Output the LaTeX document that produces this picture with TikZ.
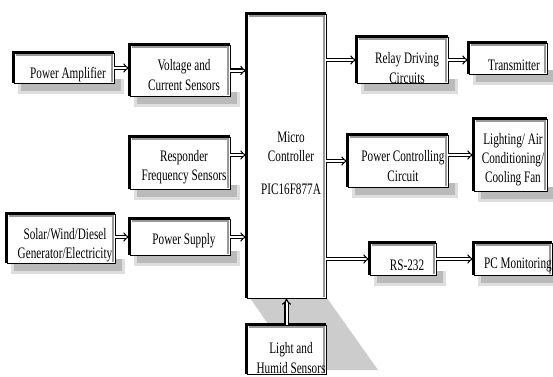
\documentclass[tikz,border=0pt]{standalone}
\usepackage{fontspec}
\setmainfont{Liberation Serif}[FakeStretch=0.7]
\usetikzlibrary{fit,arrows.meta,calc}
\begin{document}
\begin{tikzpicture}[x=0.75pt,y=-0.75pt,
  box/.style={draw=black, line width=0.7pt, fill=white, inner sep=0pt},
  edgeline/.style={black, line width=1.6pt},
  bevel/.style={black!40, line width=1.1pt},
  shadowA/.style={fill=black!13},
  shadowB/.style={fill=black!27},
  lbl/.style={font=\fontsize{12}{14.3}\selectfont, align=center, inner sep=0pt},
  arr/.style={double=white, double distance=1.5pt, line width=0.8pt, -{Implies}}
]
\useasboundingbox (0,0) rectangle (553,376);

% shadows (drawn first)
\fill[black!20] (250,298) -- (327,298) -- (378,370) -- (300,370) -- cycle;
\foreach \xa/\ya/\xb/\yb in {14/53/114/83, 130/45/230/96, 130/137/230/189, 7/214/115/263,
    130/219/230/255, 357/37/448/83, 469/43/547/74, 348/135/448/187,
    474/119/547/191, 370/243/436/275, 474/243/552/275}{
  \fill[shadowA] (\xa+4,\yb-4) rectangle (\xb+10,\yb+11);
  \fill[shadowB] (\xa+7,\yb-4) rectangle (\xb+7,\yb+8);
}

% boxes
\node[box, fit={(14,53) (114,83)}] (pa) {};
\node[box, fit={(130,45) (230,96)}] (va) {};
\node[box, fit={(130,137) (230,189)}] (rf) {};
\node[box, fit={(7,214) (115,263)}] (so) {};
\node[box, fit={(130,219) (230,255)}] (ps) {};
\node[box, fit={(247,14) (326,298)}] (mc) {};
\node[box, fit={(247,325) (326,374)}] (lh) {};
\node[box, fit={(357,37) (448,83)}] (rd) {};
\node[box, fit={(469,43) (547,74)}] (tx) {};
\node[box, fit={(348,135) (448,187)}] (pcc) {};
\node[box, fit={(474,119) (547,191)}] (lac) {};
\node[box, fit={(370,243) (436,275)}] (rs) {};
\node[box, fit={(474,243) (552,275)}] (pc) {};

% bevel edges
\foreach \n in {pa,va,rf,so,ps,mc,lh,rd,tx,pcc,lac,rs,pc}{
  \draw[bevel] ([shift={(2pt,-2pt)}]\n.north west) -- ([shift={(-1.8pt,-2pt)}]\n.north east)
               -- ([shift={(-1.8pt,1pt)}]\n.south east);
  \draw[edgeline] (\n.south west) -- (\n.north west) -- (\n.north east);
}

% labels
\node[lbl] (paT) at (68,75) {Power Amplifier};
\node[lbl] (vaT) at (184,75) {Voltage and\\Current Sensors};
\node[lbl] (rfT) at (184,167) {Responder\\Frequency Sensors};
\node[lbl] (soT) at (65,245) {Solar/Wind/Diesel\\Generator/Electricity};
\node[lbl] (psT) at (184,241) {Power Supply};
\node[lbl] (mcT) at (291,147) {Micro\\Controller};
\node[lbl] (picT) at (291,189) {PIC16F877A};
\node[lbl] (lhT) at (291,358) {Light and\\Humid Sensors};
\node[lbl] (rdT) at (407,68) {Relay Driving\\Circuits};
\node[lbl] (txT) at (514,65) {Transmitter};
\node[lbl] (pccT) at (403,166) {Power Controlling\\Circuit};
\node[lbl] (lacT) at (513,160) {Lighting/ Air\\Conditioning/\\Cooling Fan};
\node[lbl] (rsT) at (407,265) {RS-232};
\node[lbl] (pcT) at (518,265) {PC Monitoring};

% connectors
\draw[arr] (pa.east) -- (pa.east -| va.west);
\draw[arr] (va.east) -- (va.east -| mc.west);
\draw[arr] ($(rf.east)+(0,-8)$) -- ($(rf.east -| mc.west)+(0,-8)$);
\draw[arr] (ps.west -| so.east) -- (ps.west);
\draw[arr] (ps.east) -- (ps.east -| mc.west);
\draw[arr] (rd.west -| mc.east) -- (rd.west);
\draw[arr] (rd.east) -- (rd.east -| tx.west);
\draw[arr] (pcc.west -| mc.east) -- (pcc.west);
\draw[arr] (lac.west -| pcc.east) -- (lac.west);
\draw[arr] (rs.west -| mc.east) -- (rs.west);
\draw[arr] (rs.east) -- (rs.east -| pc.west);
\draw[arr] (lh.north) -- (lh.north |- mc.south);
\end{tikzpicture}
\end{document}
